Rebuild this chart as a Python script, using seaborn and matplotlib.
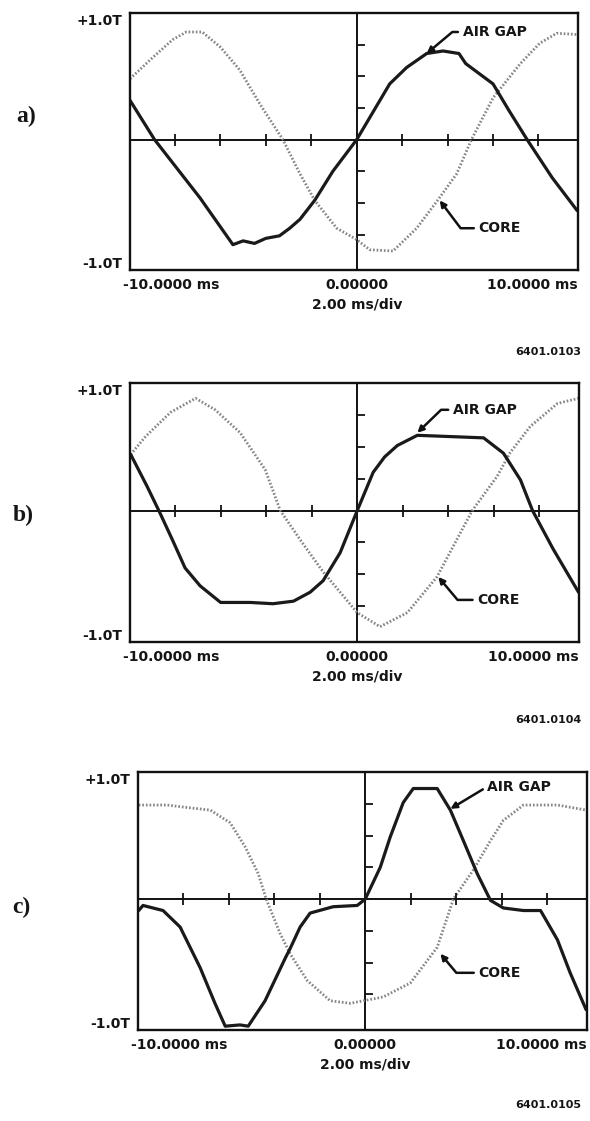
import numpy as np
import pandas as pd
import matplotlib
matplotlib.use("Agg")
import matplotlib.pyplot as plt
import seaborn as sns

# ---------------- data (time in ms, flux density in T) ----------------
A_AIR_T = [-9.98, -8.9, -6.9, -5.45, -5.0, -4.5, -4.0, -3.4, -2.95, -2.5, -1.85, -1.05, 0.0,
           1.45, 2.2, 3.08, 3.8, 4.5, 4.8, 6.0, 6.7, 7.5, 8.6, 9.7]
A_AIR_B = [0.31, 0.0, -0.46, -0.83, -0.80, -0.82, -0.78, -0.76, -0.70, -0.63, -0.48, -0.25, 0.0,
           0.44, 0.57, 0.68, 0.70, 0.68, 0.60, 0.44, 0.23, 0.0, -0.30, -0.56]
A_CORE_T = [-9.98, -8.97, -8.1, -7.5, -6.8, -6.0, -5.15, -4.26, -3.25, -2.5, -1.85, -0.88, 0.0,
            0.57, 1.6, 2.64, 3.56, 4.4, 5.05, 6.0, 7.2, 8.05, 8.8, 9.7]
A_CORE_B = [0.48, 0.65, 0.79, 0.85, 0.85, 0.73, 0.55, 0.28, 0.0, -0.27, -0.48, -0.70, -0.79,
            -0.87, -0.88, -0.70, -0.48, -0.27, 0.0, 0.33, 0.60, 0.76, 0.84, 0.83]

B_AIR_T = [-9.95, -9.23, -8.66, -8.09, -7.56, -6.9, -6.0, -4.7, -3.7, -2.8, -2.07, -1.5, -0.75, 0.0,
           0.7, 1.2, 1.76, 2.64, 4.1, 5.55, 6.42, 7.17, 7.7, 8.6, 9.72]
B_AIR_B = [0.44, 0.19, -0.02, -0.24, -0.45, -0.59, -0.72, -0.72, -0.73, -0.71, -0.64, -0.55, -0.33, 0.0,
           0.30, 0.42, 0.51, 0.59, 0.58, 0.57, 0.45, 0.24, 0.0, -0.30, -0.64]
B_CORE_T = [-9.95, -9.3, -8.2, -7.1, -6.24, -5.14, -4.04, -3.38, -2.5, -1.5, 0.0, 1.0, 2.2, 3.5,
            5.05, 6.15, 6.7, 7.6, 8.8, 9.72]
B_CORE_B = [0.44, 0.58, 0.77, 0.88, 0.79, 0.61, 0.32, 0.0, -0.23, -0.48, -0.80, -0.91, -0.80, -0.52,
            0.0, 0.27, 0.45, 0.66, 0.84, 0.88]

C_AIR_T = [-9.95, -9.76, -8.88, -8.13, -7.25, -6.6, -6.15, -5.5, -5.14, -4.4, -3.5, -3.3, -2.86,
           -2.42, -1.41, -0.35, 0.0, 0.66, 1.1, 1.67, 2.11, 3.16, 3.74, 4.31, 4.92, 5.5, 6.07,
           6.95, 7.7, 8.44, 9.0, 9.7]
C_AIR_B = [-0.09, -0.05, -0.09, -0.22, -0.54, -0.82, -1.0, -0.99, -1.0, -0.80, -0.46, -0.39, -0.22,
           -0.11, -0.06, -0.05, 0.0, 0.25, 0.49, 0.76, 0.87, 0.87, 0.70, 0.46, 0.20, -0.01, -0.07,
           -0.09, -0.09, -0.32, -0.58, -0.87]
C_CORE_T = [-9.95, -8.7, -7.8, -6.8, -5.93, -5.27, -4.7, -4.35, -3.74, -3.3, -2.55, -1.54, -0.66,
            0.79, 1.98, 3.16, 3.87, 4.75, 5.5, 6.07, 6.95, 8.44, 9.72]
C_CORE_B = [0.74, 0.74, 0.72, 0.70, 0.60, 0.41, 0.20, 0.0, -0.27, -0.43, -0.64, -0.80, -0.82,
            -0.77, -0.66, -0.38, 0.0, 0.23, 0.46, 0.62, 0.74, 0.74, 0.70]

PANEL_LABELS = ["a)", "b)", "c)"]
CATALOG = ["6401.0103", "6401.0104", "6401.0105"]
X_TICKS = [-8, -6, -4, -2, 2, 4, 6, 8]
Y_TICKS = [-0.75, -0.5, -0.25, 0.25, 0.5, 0.75]
Y_TOP_LABEL, Y_BOT_LABEL = "+1.0T", "-1.0T"
X_LABELS = ["-10.0000 ms", "0.00000", "10.0000 ms"]
X_UNIT = "2.00 ms/div"
TRACE_NAMES = ["AIR GAP", "CORE"]

# annotation (tip, text) positions per panel, and leader angles
ANN = [
    dict(air_tip=(3.08, 0.68), air_txt=(4.66, 0.85), air_ang=40,
         core_tip=(3.65, -0.48), core_txt=(5.36, -0.70), core_ang=-53),
    dict(air_tip=(2.64, 0.61), air_txt=(4.2, 0.79), air_ang=44,
         core_tip=(3.56, -0.52), core_txt=(5.27, -0.70), core_ang=-50),
    dict(air_tip=(3.74, 0.71), air_txt=(5.36, 0.88), air_ang=31,
         core_tip=(3.3, -0.43), core_txt=(4.97, -0.58), core_ang=-50),
]

panels = [
    (A_AIR_T, A_AIR_B, A_CORE_T, A_CORE_B),
    (B_AIR_T, B_AIR_B, B_CORE_T, B_CORE_B),
    (C_AIR_T, C_AIR_B, C_CORE_T, C_CORE_B),
]

# ---------------- figure layout ----------------
W, H = 590, 1121
sns.set_theme(style="white")
plt.rcParams["font.family"] = ["DejaVu Sans"]

fig = plt.figure(figsize=(W / 100, H / 100), dpi=100)
fig.patch.set_facecolor("white")

# axes boxes in pixels: left, top, right, bottom
boxes = [(130, 13, 578, 270), (130, 383, 579, 642), (138, 772, 587, 1030)]
label_px = [(26, 116), (23, 515), (21, 907)]
catalog_y = [352, 720, 1105]

TXT = dict(fontsize=10, fontweight="bold", color="#151515")

for i, (box, data) in enumerate(zip(boxes, panels)):
    l, t, r, b = box
    ax = fig.add_axes([l / W, 1 - b / H, (r - l) / W, (b - t) / H])
    at, ab, ct, cb = data
    df_air = pd.DataFrame({"t": at, "B": ab})
    df_core = pd.DataFrame({"t": ct, "B": cb})

    sns.lineplot(data=df_core, x="t", y="B", ax=ax, color="#858585", lw=2.0,
                 estimator=None, sort=False)
    ax.lines[-1].set_linestyle((0, (0.6, 0.7)))
    sns.lineplot(data=df_air, x="t", y="B", ax=ax, color="#1a1a1a", lw=2.3,
                 estimator=None, sort=False)

    ax.axhline(0, color="#111111", lw=1.4, zorder=1)
    ax.axvline(0, color="#111111", lw=1.4, zorder=1)
    ax.plot(X_TICKS, [0] * len(X_TICKS), ls="none", marker="|", ms=8, mew=1.3, color="#111111")
    ax.plot([0] * len(Y_TICKS), Y_TICKS, ls="none", marker=1, ms=6, mew=1.3, color="#111111")

    ax.set_xlim(-9.98, 9.74)
    ax.set_ylim(-1.03, 1.0)
    ax.set_xticks([])
    ax.set_yticks([])
    ax.set_xlabel("")
    ax.set_ylabel("")
    for s in ax.spines.values():
        s.set_visible(True)
        s.set_color("#111111")
        s.set_linewidth(1.7)

    # axis annotation texts
    ax.text(-8 / (r - l), 1 - 8 / (b - t), Y_TOP_LABEL, transform=ax.transAxes,
            ha="right", va="center", **TXT)
    ax.text(-8 / (r - l), 6 / (b - t), Y_BOT_LABEL, transform=ax.transAxes,
            ha="right", va="center", **TXT)
    ax.text(-7 / (r - l), -15 / (b - t), X_LABELS[0], transform=ax.transAxes,
            ha="left", va="center", **TXT)
    ax.text(0, -15 / (b - t), X_LABELS[1], transform=ax.get_xaxis_transform(),
            ha="center", va="center", **TXT)
    ax.text(1.0, -15 / (b - t), X_LABELS[2], transform=ax.transAxes,
            ha="right", va="center", **TXT)
    ax.text(0, -35 / (b - t), X_UNIT, transform=ax.get_xaxis_transform(),
            ha="center", va="center", **TXT)

    a = ANN[i]
    arrow = dict(arrowstyle="-|>", color="#111111", lw=1.8, mutation_scale=9,
                 shrinkA=1, shrinkB=0)
    ax.annotate(TRACE_NAMES[0], xy=a["air_tip"], xytext=a["air_txt"], ha="left", va="center",
                arrowprops=dict(connectionstyle=f"angle,angleA=0,angleB={a['air_ang']},rad=0",
                                **arrow), **TXT)
    ax.annotate(TRACE_NAMES[1], xy=a["core_tip"], xytext=a["core_txt"], ha="left", va="center",
                arrowprops=dict(connectionstyle=f"angle,angleA=0,angleB={a['core_ang']},rad=0",
                                **arrow), **TXT)

    lx, ly = label_px[i]
    fig.text(lx / W, 1 - ly / H, PANEL_LABELS[i], ha="center", va="center",
             fontsize=17, fontweight="bold", family=["Liberation Serif", "DejaVu Serif"],
             color="#151515")
    fig.text(581 / W, 1 - catalog_y[i] / H, CATALOG[i], ha="right", va="center",
             fontsize=8, fontweight="bold", color="#151515")

fig.savefig("out.png", dpi=100, facecolor="white")
